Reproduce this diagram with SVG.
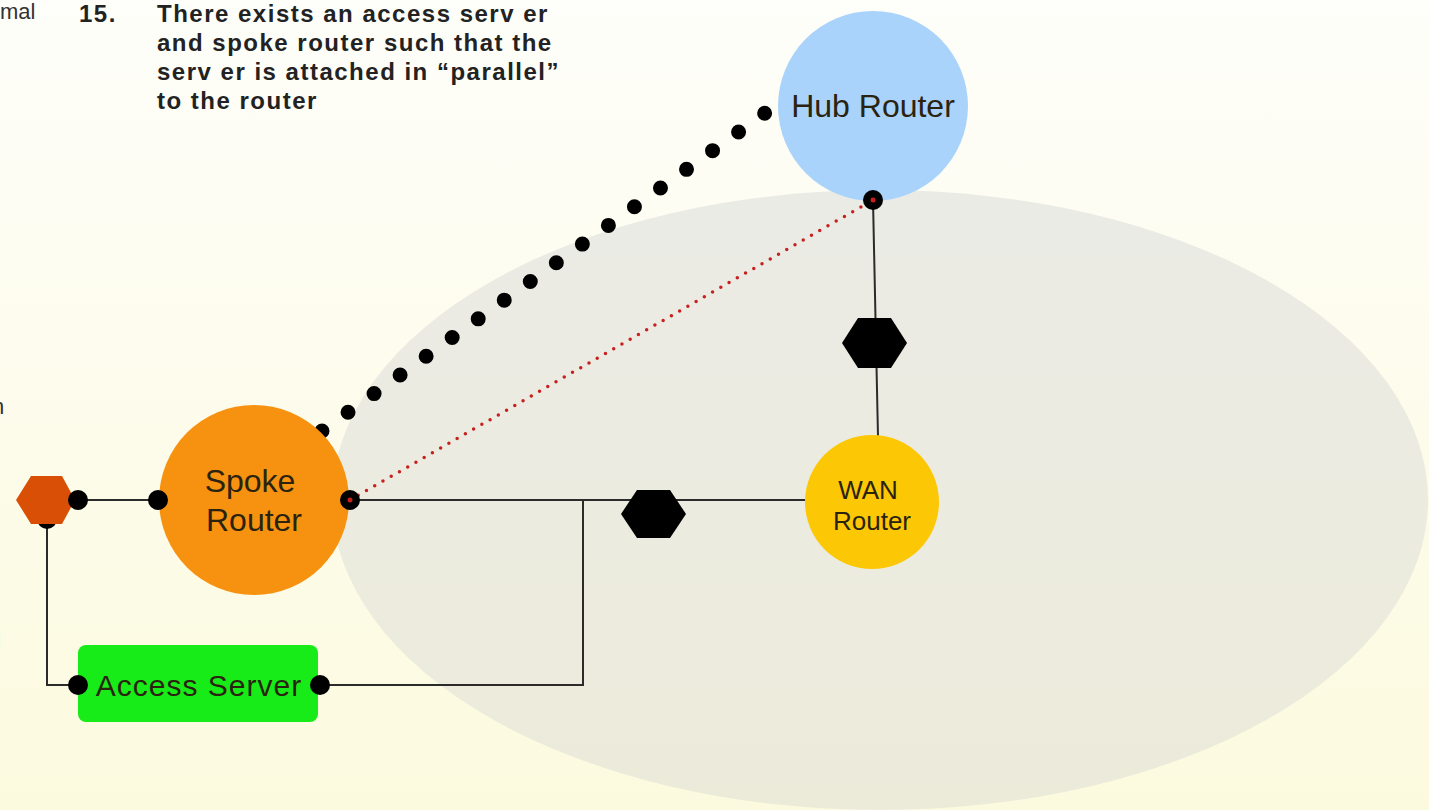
<svg xmlns="http://www.w3.org/2000/svg" width="1429" height="810" viewBox="0 0 1429 810">
  <defs>
    <linearGradient id="bg" x1="0" y1="0" x2="0" y2="1">
      <stop offset="0" stop-color="#fefefa"/>
      <stop offset="1" stop-color="#fcfade"/>
    </linearGradient>
    <linearGradient id="cloudFill" x1="0" y1="0" x2="0" y2="1">
      <stop offset="0" stop-color="#ebebe6"/>
      <stop offset="1" stop-color="#ecebda"/>
    </linearGradient>
    <style>
      .caption { font-family: "Liberation Sans", Arial, sans-serif; font-weight: bold; font-size: 24px; fill: #222; letter-spacing: 1.5px; }
      .margin { font-family: "Liberation Sans", Arial, sans-serif; font-size: 22px; fill: #333; }
      .label { font-family: "Liberation Sans", Arial, sans-serif; text-anchor: middle; fill: #2a2310; }
      .wire { stroke: #2b2b2b; stroke-width: 2; fill: none; }
      .port { fill: #000; }
      .hex { fill: #000; }
    </style>
  </defs>

  <!-- page background -->
  <rect x="0" y="0" width="1429" height="810" fill="url(#bg)"/>

  <!-- WAN cloud -->
  <ellipse cx="880" cy="500" rx="548" ry="310" fill="url(#cloudFill)"/>

  <!-- caption and margin text -->
  <text class="margin" x="0" y="19">mal</text>
  <text class="margin" x="-8" y="414">n</text>
  <text class="margin" x="-4" y="648">l</text>
  <text class="caption" x="79" y="22">15.</text>
  <text class="caption" x="157" y="22">There exists an access serv er</text>
  <text class="caption" x="157" y="51">and spoke router such that the</text>
  <text class="caption" x="157" y="80">serv er is attached in “parallel”</text>
  <text class="caption" x="157" y="109">to the router</text>

  <!-- connectors -->
  <g id="connectors">
    <line class="wire" x1="78" y1="500" x2="158" y2="500"/>
    <polyline class="wire" points="47,520 47,685 78,685"/>
    <line class="wire" x1="350" y1="500" x2="805" y2="500"/>
    <polyline class="wire" points="583,500 583,685 320,685"/>
    <line class="wire" x1="873" y1="200" x2="878" y2="437"/>
    <!-- tunnel from spoke to hub -->
    <line x1="322" y1="431" x2="765" y2="113" stroke="#000" stroke-width="15" stroke-linecap="round" stroke-dasharray="0 32.05"/>
    <!-- direct path through WAN -->
    <line x1="350" y1="500" x2="873" y2="200" stroke="#c8201e" stroke-width="3.5" stroke-linecap="round" stroke-dasharray="0 9.5"/>
  </g>

  <!-- hub router -->
  <g id="hub-router">
    <circle cx="873" cy="106" r="95" fill="#a9d3fb"/>
    <text class="label" x="873" y="117" font-size="32" fill="#1d2a3a">Hub Router</text>
    <circle class="port" cx="873" cy="200" r="10"/>
    <circle cx="873" cy="200" r="2.5" fill="#c8201e"/>
  </g>

  <!-- WAN router -->
  <g id="wan-router">
    <circle cx="872" cy="502" r="67" fill="#fcc806"/>
    <text class="label" x="868" y="499" font-size="26">WAN</text>
    <text class="label" x="872" y="530" font-size="26">Router</text>
  </g>

  <!-- WAN links (hexagon symbols) -->
  <g id="wan-link-h">
    <polygon class="hex" points="621,514 637,490 670,490 686,514 670,538 637,538"/>
  </g>
  <g id="wan-link-v">
    <polygon class="hex" points="842,343 858,318 891,318 907,343 891,368 858,368"/>
  </g>

  <!-- spoke router -->
  <g id="spoke-router">
    <circle cx="254" cy="500" r="95" fill="#f79210"/>
    <text class="label" x="250" y="492" font-size="32">Spoke</text>
    <text class="label" x="254" y="531" font-size="32">Router</text>
    <circle class="port" cx="158" cy="500" r="10"/>
    <circle class="port" cx="350" cy="500" r="10"/>
    <circle cx="350" cy="500" r="2.5" fill="#c8201e"/>
  </g>

  <!-- LAN switch -->
  <g id="lan-switch">
    <circle class="port" cx="47" cy="519" r="10"/>
    <polygon points="16,500 31,476 62,476 75,500 62,524 31,524" fill="#d94f05"/>
    <circle class="port" cx="78" cy="500" r="10"/>
  </g>

  <!-- access server -->
  <g id="access-server">
    <rect x="78" y="645" width="240" height="77" rx="8" fill="#18ec18"/>
    <text class="label" x="199" y="696" font-size="30" letter-spacing="1">Access Server</text>
    <circle class="port" cx="78" cy="685" r="10"/>
    <circle class="port" cx="320" cy="685" r="10"/>
  </g>
</svg>
